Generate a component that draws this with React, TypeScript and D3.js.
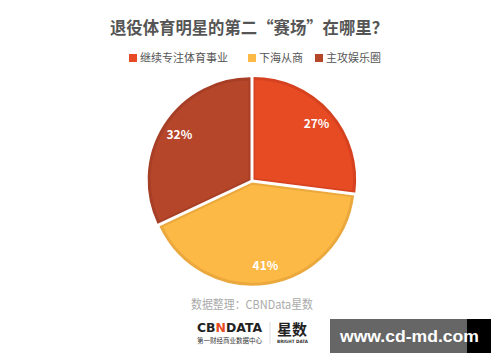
import React from "react";
import * as d3 from "d3";

const categories = ["继续专注体育事业", "下海从商", "主攻娱乐圈"];
const values = [27, 41, 32];
const fills = ["#E64B24", "#FDB945", "#B5462A"];
const strokes = ["#D6421F", "#EBA93D", "#A63F26"];

const W = 500, H = 362;
const cx = 252, cy = 181, R = 101;

export default function App() {
  const pie = d3.pie<number>().sort(null).value((d) => d)(values);
  const arc = d3.arc<d3.PieArcDatum<number>>().innerRadius(0).outerRadius(R);
  const labelArc = d3.arc<d3.PieArcDatum<number>>().innerRadius(R * 0.83).outerRadius(R * 0.83);
  const font = "'Noto Sans CJK SC', 'Noto Sans', sans-serif";
  const legendX = [129, 248, 315];
  return (
    <svg width={W} height={H} style={{ position: "absolute", left: 0, top: 0, background: "#fff" }}>
      <text x={249} y={34} textAnchor="middle" fontFamily={font} fontWeight="bold" fontSize={17} fill="#555" textLength={278} lengthAdjust="spacingAndGlyphs">
        退役体育明星的第二“赛场”在哪里？
      </text>
      {categories.map((c, i) => (
        <g key={c}>
          <rect x={legendX[i]} y={54} width={8} height={8} fill={fills[i]} />
          <text x={legendX[i] + 11} y={62} fontFamily={font} fontSize={11} fill="#555">{c}</text>
        </g>
      ))}
      <g transform={`translate(${cx},${cy})`}>
        {pie.map((d, i) => {
          const mid = (d.startAngle + d.endAngle) / 2;
          const off = 2.2;
          const dx = Math.sin(mid) * off, dy = -Math.cos(mid) * off;
          const [lx, ly] = labelArc.centroid(d);
          return (
            <g key={i} transform={`translate(${dx},${dy})`}>
              <path d={arc(d) || ""} fill={fills[i]} stroke={strokes[i]} strokeWidth={3} strokeLinejoin="round" />
              <text x={lx} y={ly} dy="0.35em" textAnchor="middle" fontFamily={font} fontWeight="bold" fontSize={12} fill="#fff">
                {values[i]}%
              </text>
            </g>
          );
        })}
        {pie.map((d, i) => (
          <line key={"s" + i} x1={0} y1={0}
            x2={Math.sin(d.startAngle) * (R + 6)} y2={-Math.cos(d.startAngle) * (R + 6)}
            stroke="#fff" strokeWidth={3} />
        ))}
      </g>
      <text x={252} y={309} textAnchor="middle" fontFamily={font} fontSize={12} fill="#aaa" textLength={122} lengthAdjust="spacingAndGlyphs">数据整理：CBNData星数</text>
      <text x={197} y={332} fontFamily="'DejaVu Sans', sans-serif" fontWeight="bold" fontSize={13} fill="#222" textLength={65} lengthAdjust="spacingAndGlyphs">
        CB<tspan fill="#E64B24">N</tspan>DATA
      </text>
      <text x={197} y={343} fontFamily={font} fontSize={6.5} fill="#333" textLength={65} lengthAdjust="spacingAndGlyphs">第一财经商业数据中心</text>
      <line x1={270} y1={322} x2={270} y2={344} stroke="#ddd" strokeWidth={1} />
      <text x={277} y={335} fontFamily={font} fontWeight="bold" fontSize={15} fill="#222" textLength={30} lengthAdjust="spacingAndGlyphs">星数</text>
      <text x={277} y={343} fontFamily="'DejaVu Sans', sans-serif" fontWeight="bold" fontSize={4.5} fill="#333" textLength={31} lengthAdjust="spacingAndGlyphs">BRIGHT DATA</text>
      <rect x={330} y={319} width={137} height={34} fill="#666" />
      <rect x={467} y={319} width={24} height={34} fill="#000" />
      <text x={340} y={342} fontFamily="'Liberation Sans', Arial, sans-serif" fontWeight="bold" fontSize={17} fill="#fff" textLength={139} lengthAdjust="spacingAndGlyphs">www.cd-md.com</text>
    </svg>
  );
}
